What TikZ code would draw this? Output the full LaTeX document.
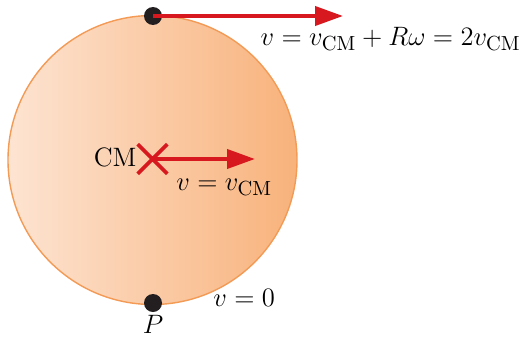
\documentclass[tikz,border=0pt]{standalone}
\usepackage{fix-cm}
\usepackage{tikz}
\usetikzlibrary{arrows.meta,shapes.misc}
\usepackage{xcolor}
\definecolor{DiskLight}{HTML}{FDE4D2}
\definecolor{DiskDark}{HTML}{F8B27B}
\definecolor{DiskEdge}{HTML}{F39A55}
\definecolor{VelRed}{HTML}{D7181F}
\definecolor{DotBlack}{HTML}{231F20}
\newcommand{\cmsub}{\mbox{\fontsize{10.2}{11}\selectfont CM}}
\tikzset{
  velarrow/.style={-{Triangle[length=14pt,width=9.5pt]},line width=2pt,draw=VelRed},
  disk/.style={circle,draw=DiskEdge,line width=0.7pt,left color=DiskLight,right color=DiskDark,minimum size=144.5pt,inner sep=0pt},
  contact/.style={circle,fill=DotBlack,minimum size=9pt,inner sep=0pt},
  cmmark/.style={cross out,draw=VelRed,line width=1.8pt,minimum size=13pt,inner sep=0pt},
  label/.style={font=\fontsize{13.3}{16}\selectfont,inner sep=0pt}
}
\begin{document}
\begin{tikzpicture}[x=0.5pt,y=-0.5pt]
  \useasboundingbox (0,0) rectangle (524,337);
  \node[disk] (disk) at (152.5,160) {};

  \node[contact] (topdot) at (153,16) {};
  \node[contact] (Pdot) at (153,303) {};
  \node[cmmark] (cm) at (152.5,159) {};

  \coordinate (topend) at (343,16);
  \coordinate (cmend) at (255,159);

  \draw[velarrow] (topdot.center) -- (topend);
  \draw[velarrow] (cm.center) -- (cmend);

  \node[label,anchor=base east] (toplabel) at (521,45) {$v = v_{\cmsub} + R\omega = 2v_{\cmsub}$};
  \node[label,anchor=base east] (cmlabel) at (137,166) {CM};
  \node[label,anchor=base west] (cmvlabel) at (176,190) {$v = v_{\cmsub}$};
  \node[label,anchor=base west] (zerolabel) at (213,306) {$v = 0$};
  \node[label,anchor=base] (Plabel) at (153,333) {$P$};
\end{tikzpicture}
\end{document}
